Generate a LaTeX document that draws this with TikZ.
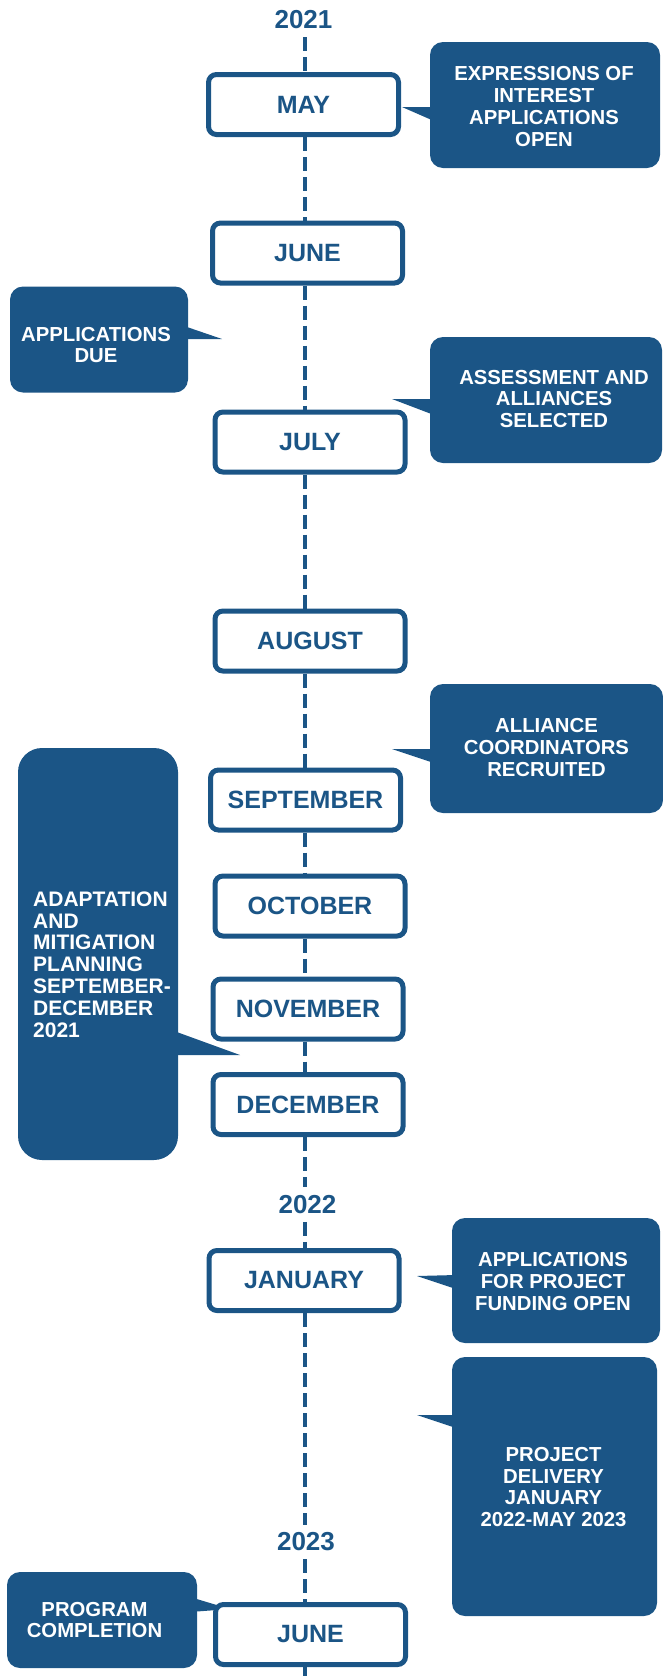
\documentclass[tikz,border=0pt]{standalone}
\usepackage{fontspec}
\setmainfont{Liberation Sans}
\usepackage{tikz}
\definecolor{tlBlue}{HTML}{1B5586}

\begin{document}
\begin{tikzpicture}[x=1pt,y=-1pt,
    month/.style={draw=tlBlue, line width=5pt, rounded corners=8pt, fill=white,
      minimum width=190pt, minimum height=60pt, inner sep=0pt, text=tlBlue,
      font=\fontsize{25}{29}\selectfont\bfseries},
    year/.style={text=tlBlue, inner xsep=0pt, inner ysep=8pt,
      font=\fontsize{26}{30}\selectfont\bfseries},
    note/.style={fill=tlBlue, rounded corners=13pt, inner sep=0pt},
    notetext/.style={text=white, align=center, inner sep=0pt,
      font=\fontsize{20.3}{21.8}\selectfont\bfseries},
    spine/.style={draw=tlBlue, line width=4pt, dash pattern=on 14pt off 6pt}]
  \useasboundingbox (0,0) rectangle (663,1676);
  \coordinate (axis) at (305,0);

  % callouts, 2021
  \node[note, minimum width=230pt, minimum height=126pt] (exprbox) at (545,105) {};
  \fill[tlBlue] (434,107) -- (402,107) -- (434,121) -- cycle;
  \node[notetext] (exprtext) at (544,106.5) {EXPRESSIONS OF\\INTEREST\\APPLICATIONS\\OPEN};

  \node[note, minimum width=178pt, minimum height=106pt] (duebox) at (99,339.5) {};
  \fill[tlBlue] (184,326) -- (222,339) -- (184,339) -- cycle;
  \node[notetext] (duetext) at (96,345) {APPLICATIONS\\DUE};

  \node[note, minimum width=232pt, minimum height=126pt] (assessbox) at (546,400) {};
  \fill[tlBlue] (434,399) -- (392,399) -- (434,415) -- cycle;
  \node[notetext] (assesstext) at (554,399) {ASSESSMENT AND\\ALLIANCES\\SELECTED};

  \node[note, minimum width=233pt, minimum height=129pt] (alliancebox) at (546.5,748.5) {};
  \fill[tlBlue] (434,749) -- (392,749) -- (434,763) -- cycle;
  \node[notetext] (alliancetext) at (546.5,747.5) {ALLIANCE\\COORDINATORS\\RECRUITED};

  \node[note, rounded corners=24pt, minimum width=160pt, minimum height=412pt] (planbox) at (98,954) {};
  \fill[tlBlue] (174,1031) -- (240,1055) -- (174,1055) -- cycle;
  \node[notetext, align=left, anchor=west, font=\fontsize{21}{21.8}\selectfont\bfseries]
    (plantext) at (33,964.5)
    {ADAPTATION\\AND\\MITIGATION\\PLANNING\\SEPTEMBER-\\DECEMBER\\2021};

  % callouts, 2022-2023
  \node[note, minimum width=208pt, minimum height=125pt] (fundbox) at (556,1280.5) {};
  \fill[tlBlue] (456,1275) -- (417,1276) -- (456,1289) -- cycle;
  \node[notetext] (fundtext) at (553,1281.5) {APPLICATIONS\\FOR PROJECT\\FUNDING OPEN};

  \node[note, minimum width=205pt, minimum height=259pt] (deliverybox) at (554.5,1486.5) {};
  \fill[tlBlue] (456,1415) -- (417,1415) -- (456,1428) -- cycle;
  \node[notetext] (deliverytext) at (553.5,1487) {PROJECT\\DELIVERY\\JANUARY\\2022-MAY 2023};

  \node[note, minimum width=190pt, minimum height=96pt] (endbox) at (102,1620) {};
  \fill[tlBlue] (190,1597) -- (230,1609) -- (190,1612) -- cycle;
  \node[notetext] (endtext) at (94.5,1620) {PROGRAM\\COMPLETION};

  % years
  \node[year] (y2021) at (303.5,20) {2021};
  \node[year] (y2022) at (307.5,1204.5) {2022};
  \node[year] (y2023) at (306,1542) {2023};

  % months
  \node[month] (may) at (303.5,104.5) {MAY};
  \node[month] (junea) at (307.5,253) {JUNE};
  \node[month] (july) at (310,442) {JULY};
  \node[month] (august) at (310,641) {AUGUST};
  \node[month] (september) at (305.5,800) {SEPTEMBER};
  \node[month] (october) at (310,906) {OCTOBER};
  \node[month] (november) at (308,1009) {NOVEMBER};
  \node[month] (december) at (308,1104.5) {DECEMBER};
  \node[month] (january) at (304,1280.5) {JANUARY};
  \node[month] (juneb) at (310.5,1634.5) {JUNE};

  % timeline
  \foreach \a/\b in {y2021/may, may/junea, junea/july, july/august, august/september,
      september/october, october/november, november/december, december/y2022,
      y2022/january, january/y2023, y2023/juneb}
    \draw[spine] (\a.south -| axis) -- (\b.north -| axis);
  \draw[spine] (juneb.south -| axis) -- (axis |- 0,1680);
\end{tikzpicture}
\end{document}
